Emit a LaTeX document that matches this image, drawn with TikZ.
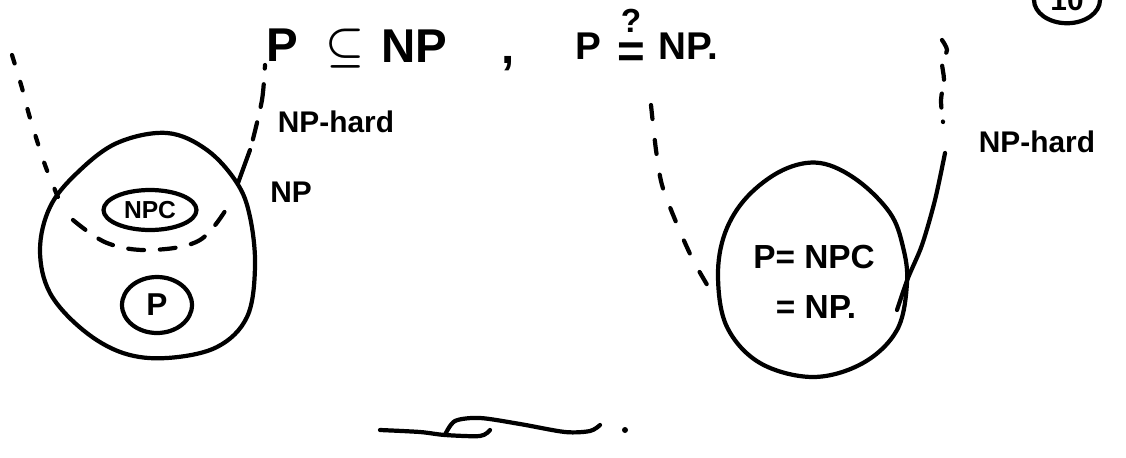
\documentclass[tikz,border=0pt]{standalone}
\usepackage{fontspec}
\setmainfont{Liberation Sans}
\usetikzlibrary{shapes.geometric}
\begin{document}
\begin{tikzpicture}[x=0.02cm,y=-0.02cm,line cap=round,line join=round,
  ink/.style={line width=2.4pt},
  dashink/.style={line width=2.4pt,dash pattern=on 5pt off 11pt},
  lbl/.style={font=\bfseries\fontsize{17}{17}\selectfont,inner sep=0pt},
  big/.style={font=\bfseries\boldmath\fontsize{27}{27}\selectfont,inner sep=0pt},
  bigb/.style={font=\bfseries\fontsize{22}{22}\selectfont,inner sep=0pt},
  inlbl/.style={font=\bfseries\fontsize{19}{19}\selectfont,inner sep=0pt}]
\useasboundingbox (0,0) rectangle (1126,457);
\clip (0,0) rectangle (1126,457);
% ---------- top line ----------
\node[big] (tp) at (282,45) {P};
\node[big] (tsub) at (345,49) {$\subseteq$};
\node[big] (tnp) at (414,46) {NP};
\node[big] (tcomma) at (508,64) {,};
\node[bigb] (up) at (588,46) {P};
\node[bigb,align=center] (ueq) at (631,38) {{\fontsize{19}{19}\selectfont ?}\\[-2pt]{\fontsize{27}{27}\selectfont =}};
\node[bigb] (unp) at (688,46) {NP.};
% ---------- page number ----------
\node[draw,ellipse,ink,minimum width=1.32cm,minimum height=0.88cm,font=\bfseries\fontsize{17}{17}\selectfont] (pg) at (1067,0) {10};
% ---------- left egg ----------
\draw[ink] plot[smooth cycle,tension=0.6] coordinates {(167,133) (207,150) (237,183) (250,217) (255,267) (247,317) (217,347) (167,358) (123,353) (83,330) (50,293) (40,250) (50,207) (77,173) (117,143)};
\node[draw,ellipse,ink,minimum width=1.86cm,minimum height=0.8cm,inner sep=0pt,font=\bfseries\fontsize{14}{14}\selectfont] (npc) at (150,210) {NPC};
\node[draw,ellipse,ink,minimum width=1.4cm,minimum height=1.12cm,inner sep=0pt,font=\bfseries\fontsize{18}{18}\selectfont] (p) at (157,305) {P};
\draw[line width=2.4pt,dash pattern=on 9pt off 9pt] plot[smooth,tension=0.6] coordinates {(73,220) (107,243) (150,250) (200,240) (230,203)};
\draw[dashink] plot[smooth] coordinates {(12,55) (22,88) (30,118) (45,165) (60,202)};
\draw[line width=2.4pt,dash pattern=on 2pt off 9pt on 13pt off 9pt on 10pt off 5pt] plot[smooth] coordinates {(265,65) (262,100) (252,143)};
\draw[ink] (250,150) -- (238,183);
\node[lbl] (nph1) at (336,122) {NP-hard};
\node[lbl] (np1) at (291,192) {NP};
% ---------- right egg ----------
\draw[ink] plot[smooth cycle,tension=0.6] coordinates {(820,163) (857,180) (890,213) (903,247) (907,283) (897,330) (863,363) (813,377) (760,363) (727,327) (718,277) (725,233) (747,197) (783,170)};
\node[inlbl] (eq1) at (814,257) {P= NPC};
\node[inlbl] (eq2) at (816,307) {= NP.};
\draw[line width=2.4pt,dash pattern=on 8pt off 12pt] plot[smooth] coordinates {(651,105) (656,150) (662,185) (676,222) (693,260) (712,293)};
\draw[line width=2.4pt,dash pattern=on 8pt off 8pt] plot[smooth] coordinates {(942,40) (947,50) (942,62) (944,80) (941,100) (943,122)};
\draw[ink] plot[smooth] coordinates {(945,153) (935,200) (922,245) (908,278) (897,310)};
\node[lbl] (nph2) at (1037,142) {NP-hard};
% ---------- closing flourish ----------
\draw[ink] plot[smooth] coordinates {(380,430) (420,432) (445,435) (480,436) (490,430)};
\draw[ink] plot[smooth] coordinates {(445,435) (455,421) (480,418) (520,424) (565,432) (590,431) (600,425)};
\fill (625,430) circle (3);
\end{tikzpicture}
\end{document}
